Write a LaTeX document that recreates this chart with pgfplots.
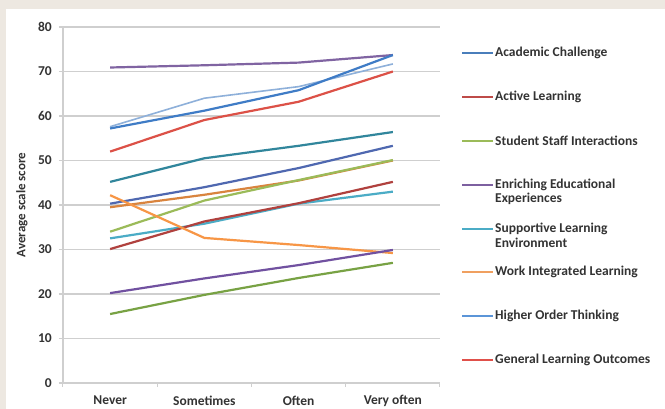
\documentclass[border=0pt]{standalone}
\usepackage{pgfplots}
\pgfplotsset{compat=1.18}
\usepackage{fontspec}
\setmainfont{Carlito}

\definecolor{panelbg}{HTML}{EDE8E1}
\definecolor{gridgrey}{HTML}{CFCFCF}
\definecolor{txt}{HTML}{333333}
% series colours
\definecolor{cPurpleA}{HTML}{8064A2}
\definecolor{cBlue}{HTML}{3F7CC6}
\definecolor{cLightBlue}{HTML}{8EB0DA}
\definecolor{cRed}{HTML}{DC5147}
\definecolor{cTeal}{HTML}{31869C}
\definecolor{cIndigo}{HTML}{4F68B0}
\definecolor{cOrangeB}{HTML}{D9843E}
\definecolor{cGreenA}{HTML}{9BBB59}
\definecolor{cCyan}{HTML}{4BACC6}
\definecolor{cDarkRed}{HTML}{B0413E}
\definecolor{cOrange}{HTML}{F79646}
\definecolor{cPurpleB}{HTML}{7151A0}
\definecolor{cGreenB}{HTML}{78A244}
% legend colours
\definecolor{lAcad}{HTML}{4A7EBB}
\definecolor{lActive}{HTML}{BE4B48}
\definecolor{lStaff}{HTML}{9BBB59}
\definecolor{lEnrich}{HTML}{7D60A0}
\definecolor{lSupp}{HTML}{4BACC6}
\definecolor{lWork}{HTML}{F0A060}
\definecolor{lHigher}{HTML}{5B95D8}
\definecolor{lGeneral}{HTML}{E0504A}

\newcommand{\lblfont}{\bfseries\fontsize{13.5}{15}\selectfont}

\begin{document}
\begin{tikzpicture}
\useasboundingbox (-63pt,-26pt) rectangle (602pt,383pt);
\fill[panelbg] (-63pt,-26pt) rectangle (602pt,383pt);
\fill[white] (-57pt,-26pt) rectangle (602pt,374pt);

\begin{axis}[at={(0pt,0pt)}, anchor=south west,
    scale only axis, width=377pt, height=356pt,
    xmin=-0.5, xmax=3.5, ymin=0, ymax=80,
    ytick={0,10,...,80},
    xtick={0,1,2,3},
    xticklabels={Never,Sometimes,Often,Very often},
    axis lines*=left,
    axis line style={draw=gridgrey, line width=1.2pt},
    ymajorgrids, grid style={draw=gridgrey, line width=1.2pt},
    tick align=outside,
    xtick style={draw=none},
    ytick style={draw=gridgrey, line width=1.2pt},
    major tick length=4pt,
    extra x ticks={-0.5,0.5,1.5,2.5,3.5},
    extra x tick labels={},
    extra x tick style={xtick style={draw=gridgrey, line width=1pt}},
    /pgf/number format/assume math mode=true,
    ticklabel style={font=\lblfont, text=txt},
    yticklabel style={anchor=east, inner sep=0pt, xshift=-7pt},
    xticklabel style={anchor=center, inner sep=0pt, yshift=-13.5pt},
    ylabel={Average scale score},
    ylabel style={font=\bfseries\fontsize{13}{15}\selectfont, text=txt,
        at={(axis description cs:-0.109,0.5)}, anchor=center},
    every axis plot/.append style={line width=2.2pt, no markers},
    clip=false]

\addplot[cPurpleA] coordinates {(0,70.9) (1,71.4) (2,72.0) (3,73.7)};
\addplot[cLightBlue, line width=1.6pt] coordinates {(0,57.6) (1,64.0) (2,66.6) (3,71.7)};
\addplot[cBlue] coordinates {(0,57.2) (1,61.2) (2,65.8) (3,73.7)};
\addplot[cRed] coordinates {(0,52.0) (1,59.1) (2,63.2) (3,70.0)};
\addplot[cTeal] coordinates {(0,45.2) (1,50.5) (2,53.3) (3,56.4)};
\addplot[cIndigo] coordinates {(0,40.3) (1,44.0) (2,48.3) (3,53.3)};
\addplot[cOrangeB] coordinates {(0,39.5) (1,42.3) (2,45.5) (3,50.0)};
\addplot[cGreenA] coordinates {(0,34.0) (1,41.0) (2,45.6) (3,50.1)};
\addplot[cCyan] coordinates {(0,32.5) (1,35.8) (2,40.3) (3,43.0)};
\addplot[cDarkRed] coordinates {(0,30.1) (1,36.3) (2,40.4) (3,45.2)};
\addplot[cOrange] coordinates {(0,42.2) (1,32.6) (2,31.0) (3,29.2)};
\addplot[cPurpleB] coordinates {(0,20.2) (1,23.5) (2,26.5) (3,29.9)};
\addplot[cGreenB] coordinates {(0,15.5) (1,19.8) (2,23.6) (3,27.0)};
\end{axis}

% legend
\begin{scope}[every node/.style={font=\lblfont, text=txt, anchor=west, inner sep=0pt}]
\foreach \c/\y/\t in {lAcad/330/Academic Challenge,
                      lActive/286/Active Learning,
                      lStaff/242/Student Staff Interactions,
                      lEnrich/198/Enriching Educational,
                      lSupp/154/Supportive Learning,
                      lWork/111/Work Integrated Learning,
                      lHigher/67/Higher Order Thinking,
                      lGeneral/23/General Learning Outcomes}{
  \draw[\c, line width=2.2pt] (399pt,\y pt) -- (430pt,\y pt);
  \node at (432pt,\y pt) {\t};
}
\node at (432pt,184pt) {Experiences};
\node at (432pt,140pt) {Environment};
\end{scope}
\end{tikzpicture}
\end{document}
